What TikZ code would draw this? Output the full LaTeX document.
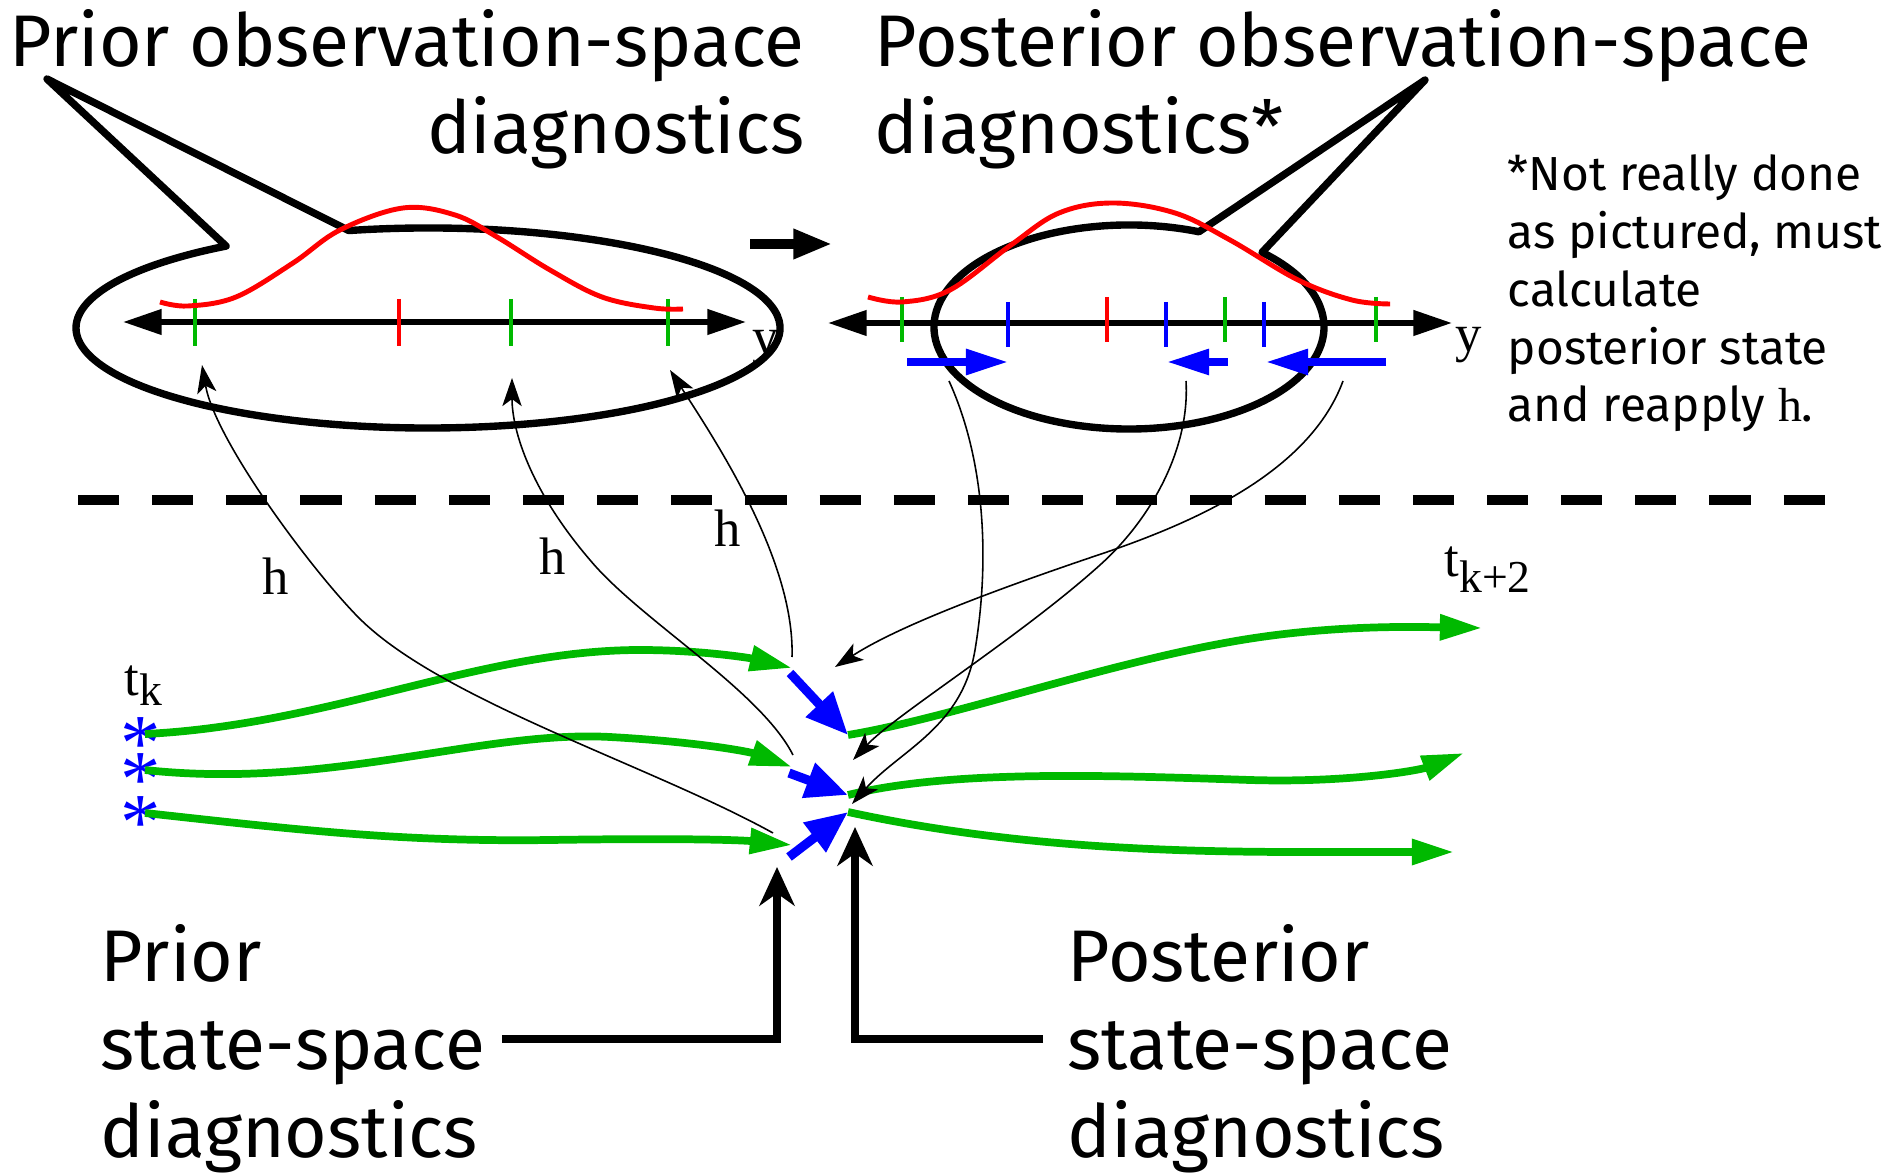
\documentclass[tikz,border=0pt]{standalone}
\usepackage{fontspec}
\setmainfont{Fira Sans}
\newfontfamily\timesf{Liberation Serif}
\usetikzlibrary{arrows.meta}
\definecolor{xgreen}{RGB}{0,185,0}

\begin{document}
\begin{tikzpicture}[x=0.1mm, y=-0.1mm,
  every node/.style={inner sep=0pt},
  big/.style={font=\fontsize{20.8}{25}\selectfont},
  note/.style={font=\fontsize{13.6}{16.5}\selectfont},
  serif/.style={font=\timesf\fontsize{15}{18}\selectfont},
  ens/.style={font=\timesf\fontsize{23}{23}\selectfont, text=blue},
  bubble/.style={line width=2.1pt, line join=round},
  yline/.style={line width=1.6pt, {Triangle[length=11pt,width=7pt]}-{Triangle[length=11pt,width=7pt]}},
  obs/.style={line width=1.4pt},
  dens/.style={red, line width=1.4pt},
  harr/.style={line width=0.45pt, -{Stealth[length=8pt,width=5.5pt,inset=2pt]}},
  traj/.style={xgreen, line width=2.2pt, -{Triangle[length=12pt,width=7pt]}},
  upd/.style={blue, line width=2.6pt, -{Triangle[length=12pt,width=10pt]}},
  incr/.style={blue, line width=2.1pt, -{Triangle[length=12pt,width=7pt]}},
  diag/.style={line width=2.2pt, -{Stealth[length=11pt,width=10pt,inset=3.5pt]}}
]
\useasboundingbox (0,0) rectangle (1890,1175);

% headings
\node[big, align=right, anchor=base east] (priorobs) at (805,154) {Prior observation-space\\diagnostics};
\node[big, align=left, anchor=base west] (postobs) at (874,154) {Posterior observation-space\\diagnostics*};
\node[note, align=left, anchor=base west] (caveat) at (1507,422) {*Not really done\\as pictured, must\\calculate\\posterior state\\and reapply {\timesf h}.};

% prior observation space
\coordinate (lc) at (428,328);
\node[serif, anchor=base west] (ly) at (752,355) {y};
\draw[bubble] (lc) ++(-103:352 and 100) arc[start angle=-103, end angle=235, x radius=352, y radius=100] -- (47,79) -- cycle;
\draw[yline] (123,322) -- (746,322);
\foreach \x/\c in {195/xgreen, 399/red, 511/xgreen, 668/xgreen}
  \draw[obs, \c] (\x,299) -- (\x,346);
\draw[dens] plot[smooth, tension=0.6] coordinates {(160,302) (188,306) (236,297) (293,263) (340,230) (403,208) (455,215) (497,237) (550,270) (602,297) (654,308) (683,309)};

% posterior observation space
\coordinate (rc) at (1129,327);
\node[serif, anchor=base west] (ry) at (1455,352) {y};
\draw[bubble] (rc) ++(-69:195 and 102) arc[start angle=-69, end angle=-407, x radius=195, y radius=102] -- (1425,80) -- cycle;
\draw[yline] (828,323) -- (1452,323);
\foreach \x/\c in {902/xgreen, 1107/red, 1225/xgreen, 1376/xgreen}
  \draw[obs, \c] (\x,297) -- (\x,342);
\foreach \x in {1008, 1166, 1264}
  \draw[obs, blue] (\x,302) -- (\x,347);
\draw[dens] plot[smooth, tension=0.6] coordinates {(868,297) (902,302) (950,290) (1011,245) (1059,213) (1113,203) (1175,213) (1230,240) (1298,280) (1352,300) (1390,304)};
\draw[incr] (907,362) -- (1008,362);
\draw[incr] (1228,362) -- (1167,362);
\draw[incr] (1386,362) -- (1266,362);

\draw[line width=2.6pt, -{Triangle[length=11pt,width=8pt]}] (750,244) -- (832,244);

% split
\draw[line width=2.9pt, dash pattern=on 11.7pt off 9.4pt] (78,500) -- (1838,500);

% state space
\node[ens] (e1) at (141,744) {*};
\node[ens] (e2) at (141,780) {*};
\node[ens] (e3) at (141,823) {*};
\coordinate (s1) at (145,734);
\coordinate (s2) at (145,770);
\coordinate (s3) at (145,813);
\node[serif, anchor=base west] (tk) at (124,695) {t\raisebox{-3pt}{\fontsize{13}{15}\selectfont k}};
\node[serif, anchor=base west] (tk2) at (1444,577) {t\raisebox{-4.3pt}{\fontsize{13}{15}\selectfont k+2}};

\coordinate (g1) at (792,668);
\coordinate (g2) at (792,767);
\coordinate (g3) at (792,845);
\coordinate (a1) at (848,735);
\coordinate (a2) at (848,795);
\coordinate (a3) at (848,812);

\draw[traj] (s1) .. controls (330,725) and (480,650) .. (640,650) .. controls (700,650) and (750,658) .. (g1);
\draw[traj] (s2) .. controls (330,790) and (480,730) .. (610,737) .. controls (700,742) and (750,752) .. (g2);
\draw[traj] (s3) .. controls (300,830) and (400,842) .. (550,840) .. controls (680,838) and (740,840) .. (g3);

\draw[upd] (790,673) -- (a1);
\draw[upd] (789,773) -- (a2);
\draw[upd] (789,857) -- (a3);

\draw[traj] (a1) .. controls (950,718) and (1100,665) .. (1230,642) .. controls (1330,624) and (1420,627) .. (1482,628);
\draw[traj] (a2) .. controls (950,770) and (1100,775) .. (1250,780) .. controls (1350,783) and (1420,770) .. (1464,753);
\draw[traj] (a3) .. controls (1000,845) and (1150,852) .. (1300,852) -- (1454,852);

% h applied to the prior
\draw[harr] (773,833) .. controls (650,765) and (440,700) .. (358,617) .. controls (310,568) and (215,440) .. (202,365);
\draw[harr] (793,755) .. controls (760,690) and (640,620) .. (590,560) .. controls (530,490) and (512,430) .. (512,378);
\draw[harr] (792,657) .. controls (795,560) and (715,440) .. (670,370);
\node[serif, anchor=base west] (h1) at (262,595) {h};
\node[serif, anchor=base west] (h2) at (539,575) {h};
\node[serif, anchor=base west] (h3) at (714,547) {h};

% back from the posterior
\draw[harr] (949,381) .. controls (985,460) and (990,560) .. (975,650) .. controls (962,728) and (900,750) .. (852,804);
\draw[harr] (1186,381) .. controls (1190,450) and (1150,520) .. (1100,565) .. controls (1020,637) and (895,715) .. (853,760);
\draw[harr] (1343,381) .. controls (1310,470) and (1200,520) .. (1107,552) .. controls (1000,588) and (900,625) .. (835,667);

% state-space diagnostics
\node[big, align=left, anchor=base west] (priorst) at (100,1157) {Prior\\state-space\\diagnostics};
\node[big, align=left, anchor=base west] (postst) at (1067,1157) {Posterior\\state-space\\diagnostics};
\coordinate (pr0) at (502,1039);
\coordinate (po0) at (1043,1039);
\draw[diag] (pr0) -| (777,867);
\draw[diag] (po0) -| (855,827);
\end{tikzpicture}
\end{document}
